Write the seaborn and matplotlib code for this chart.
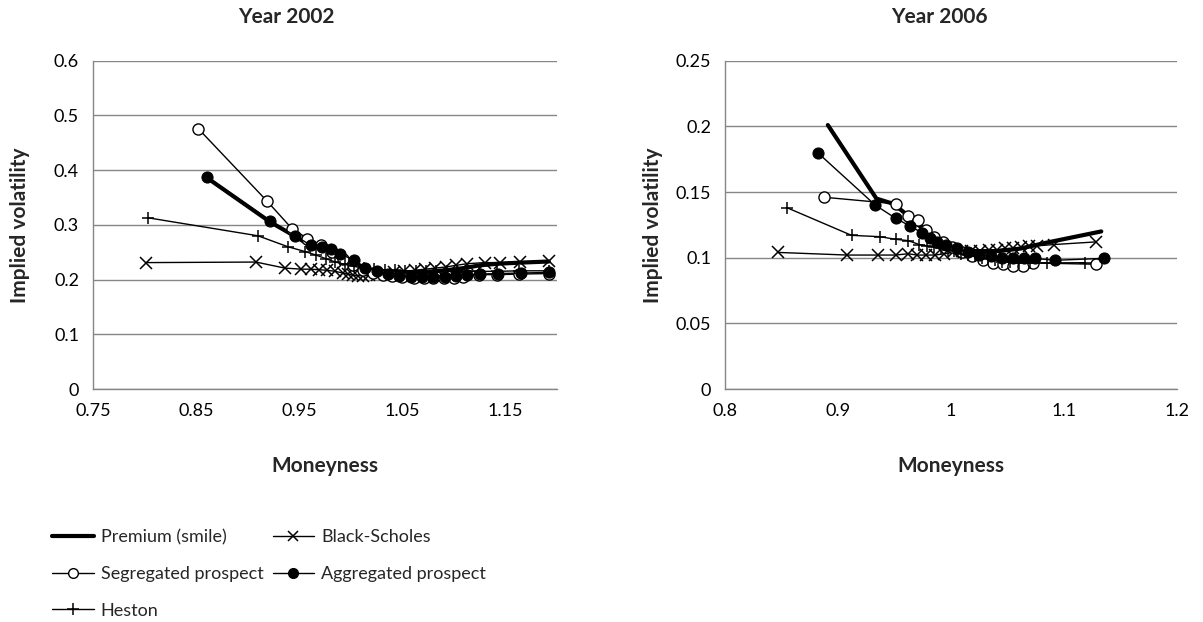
import numpy as np
import pandas as pd
import seaborn as sns
import matplotlib.pyplot as plt
from matplotlib.lines import Line2D

sns.set_style("white")
plt.rcParams['font.family'] = ['Lato', 'DejaVu Sans']

# ---- Year 2002 ----
prem02_x = [0.859, 0.922, 0.946, 0.961, 0.972, 0.981, 0.990, 1.003, 1.014, 1.025, 1.036, 1.047,
            1.058, 1.069, 1.080, 1.091, 1.102, 1.113, 1.125, 1.143, 1.165, 1.192]
prem02_y = [0.388, 0.305, 0.279, 0.262, 0.258, 0.252, 0.245, 0.232, 0.220, 0.214, 0.212, 0.212,
            0.213, 0.214, 0.215, 0.217, 0.219, 0.222, 0.226, 0.229, 0.231, 0.233]

bs02_x = [0.801, 0.908, 0.936, 0.952, 0.961, 0.969, 0.977, 0.985, 0.992, 0.997, 1.002, 1.007,
          1.012, 1.018, 1.025, 1.033, 1.042, 1.052, 1.062, 1.072, 1.082, 1.092, 1.102, 1.113,
          1.130, 1.145, 1.164, 1.192]
bs02_y = [0.231, 0.232, 0.221, 0.219, 0.219, 0.218, 0.217, 0.215, 0.212, 0.210, 0.208, 0.207,
          0.207, 0.208, 0.209, 0.211, 0.213, 0.215, 0.217, 0.219, 0.221, 0.223, 0.226, 0.229,
          0.231, 0.231, 0.232, 0.234]

seg02_x = [0.852, 0.919, 0.943, 0.958, 0.971, 0.982, 0.992, 1.002, 1.012, 1.022, 1.031, 1.040,
           1.050, 1.061, 1.071, 1.080, 1.090, 1.100, 1.109, 1.124, 1.142, 1.163, 1.192]
seg02_y = [0.476, 0.343, 0.293, 0.275, 0.263, 0.250, 0.237, 0.226, 0.218, 0.212, 0.208, 0.206,
           0.204, 0.202, 0.202, 0.202, 0.202, 0.203, 0.204, 0.209, 0.209, 0.210, 0.211]

agg02_x = [0.861, 0.922, 0.946, 0.961, 0.972, 0.981, 0.990, 1.003, 1.014, 1.025, 1.036, 1.047,
           1.058, 1.069, 1.080, 1.091, 1.102, 1.113, 1.125, 1.143, 1.165, 1.192]
agg02_y = [0.387, 0.307, 0.280, 0.263, 0.260, 0.255, 0.247, 0.235, 0.222, 0.215, 0.210, 0.207,
           0.205, 0.204, 0.204, 0.205, 0.206, 0.208, 0.210, 0.211, 0.212, 0.213]

hes02_x = [0.803, 0.910, 0.939, 0.956, 0.966, 0.976, 0.985, 0.994, 1.003, 1.013, 1.023, 1.033,
           1.043, 1.053, 1.063, 1.073, 1.083, 1.093, 1.103, 1.113, 1.124, 1.142, 1.163, 1.192]
hes02_y = [0.313, 0.280, 0.260, 0.251, 0.245, 0.238, 0.232, 0.228, 0.224, 0.221, 0.219, 0.218,
           0.217, 0.216, 0.216, 0.215, 0.215, 0.215, 0.215, 0.215, 0.215, 0.215, 0.216, 0.216]

# ---- Year 2006 ----
prem06_x = [0.891, 0.934, 0.949, 0.962, 0.971, 0.979, 0.986, 0.994, 1.002, 1.012, 1.022, 1.032,
            1.042, 1.052, 1.062, 1.072, 1.082, 1.133]
prem06_y = [0.201, 0.145, 0.141, 0.132, 0.125, 0.119, 0.115, 0.112, 0.108, 0.106, 0.105, 0.105,
            0.105, 0.106, 0.107, 0.109, 0.111, 0.120]

bs06_x = [0.847, 0.908, 0.935, 0.951, 0.962, 0.970, 0.978, 0.986, 0.994, 1.002, 1.010, 1.018,
          1.026, 1.034, 1.041, 1.048, 1.055, 1.062, 1.069, 1.076, 1.091, 1.128]
bs06_y = [0.104, 0.102, 0.102, 0.102, 0.103, 0.102, 0.102, 0.102, 0.103, 0.104, 0.105, 0.105,
          0.105, 0.106, 0.106, 0.107, 0.107, 0.108, 0.109, 0.109, 0.110, 0.112]

seg06_x = [0.888, 0.951, 0.962, 0.971, 0.978, 0.985, 0.993, 1.001, 1.010, 1.019, 1.028, 1.037,
           1.046, 1.055, 1.064, 1.073, 1.128]
seg06_y = [0.146, 0.141, 0.132, 0.129, 0.121, 0.116, 0.112, 0.108, 0.104, 0.101, 0.098, 0.096,
           0.095, 0.094, 0.094, 0.096, 0.095]

agg06_x = [0.882, 0.933, 0.951, 0.964, 0.974, 0.981, 0.988, 0.996, 1.005, 1.015, 1.025, 1.035,
           1.045, 1.055, 1.065, 1.074, 1.092, 1.135]
agg06_y = [0.180, 0.140, 0.130, 0.124, 0.119, 0.115, 0.112, 0.110, 0.107, 0.104, 0.102, 0.101,
           0.100, 0.100, 0.100, 0.0995, 0.098, 0.0995]

hes06_x = [0.855, 0.912, 0.937, 0.951, 0.962, 0.972, 0.979, 0.985, 0.991, 0.997, 1.003, 1.009,
           1.015, 1.021, 1.027, 1.033, 1.039, 1.045, 1.052, 1.060, 1.070, 1.085, 1.119]
hes06_y = [0.138, 0.117, 0.116, 0.114, 0.113, 0.110, 0.109, 0.108, 0.107, 0.106, 0.105, 0.103,
           0.102, 0.101, 0.100, 0.099, 0.098, 0.097, 0.097, 0.096, 0.096, 0.096, 0.0962]

labels = ["Premium (smile)", "Black-Scholes", "Segregated prospect", "Aggregated prospect", "Heston"]

styles = {
    "Premium (smile)": dict(linewidth=3.0, marker=None),
    "Black-Scholes": dict(linewidth=1.0, marker='x', markersize=8, markeredgewidth=1.1,
                          markeredgecolor='black'),
    "Segregated prospect": dict(linewidth=1.0, marker='o', markersize=8, markerfacecolor='white',
                                markeredgecolor='black', markeredgewidth=1.0),
    "Aggregated prospect": dict(linewidth=1.0, marker='o', markersize=8, markerfacecolor='black',
                                markeredgecolor='black'),
    "Heston": dict(linewidth=1.0, marker='+', markersize=9, markeredgewidth=1.1,
                   markeredgecolor='black'),
}

data02 = [(prem02_x, prem02_y), (bs02_x, bs02_y), (seg02_x, seg02_y), (agg02_x, agg02_y), (hes02_x, hes02_y)]
data06 = [(prem06_x, prem06_y), (bs06_x, bs06_y), (seg06_x, seg06_y), (agg06_x, agg06_y), (hes06_x, hes06_y)]

W, H = 1203, 622
fig = plt.figure(figsize=(W / 100, H / 100), dpi=100)
ax1 = fig.add_axes([93 / W, 1 - 389 / H, 464 / W, 328.3 / H])
ax2 = fig.add_axes([725 / W, 1 - 389 / H, 452 / W, 328.3 / H])

grey = '#868686'


def draw(ax, data, xlim, xticks, xtl, ylim, yticks, ytl):
    for lab, (xs, ys) in zip(labels, data):
        sns.lineplot(x=xs, y=ys, ax=ax, color='black', sort=False, estimator=None,
                     **styles[lab])
    ax.set_xlim(*xlim)
    ax.set_ylim(*ylim)
    ax.set_xticks(xticks)
    ax.set_xticklabels(xtl)
    ax.set_yticks(yticks)
    ax.set_yticklabels(ytl)
    ax.grid(axis='y', color=grey, linewidth=1.0)
    ax.grid(axis='x', visible=False)
    ax.set_axisbelow(True)
    for s in ['top', 'right']:
        ax.spines[s].set_visible(False)
    for s in ['left', 'bottom']:
        ax.spines[s].set_color(grey)
        ax.spines[s].set_linewidth(1.0)
    ax.tick_params(axis='both', direction='out', length=4, width=1, color=grey,
                   labelsize=13, labelcolor='black')
    ax.tick_params(axis='x', pad=6)
    ax.tick_params(axis='y', pad=6)
    ax.set_xlabel("Moneyness", fontsize=15, fontweight='bold')
    ax.set_ylabel("Implied volatility", fontsize=15, fontweight='bold')
    ax.xaxis.set_label_coords(0.5, -67 / 328.3)


draw(ax1, data02, (0.75, 1.2), [0.75, 0.85, 0.95, 1.05, 1.15],
     ["0.75", "0.85", "0.95", "1.05", "1.15"],
     (0, 0.6), [0, 0.1, 0.2, 0.3, 0.4, 0.5, 0.6], ["0", "0.1", "0.2", "0.3", "0.4", "0.5", "0.6"])
draw(ax2, data06, (0.8, 1.2), [0.8, 0.9, 1.0, 1.1, 1.2], ["0.8", "0.9", "1", "1.1", "1.2"],
     (0, 0.25), [0, 0.05, 0.1, 0.15, 0.2, 0.25], ["0", "0.05", "0.1", "0.15", "0.2", "0.25"])
ax1.yaxis.set_label_coords(-63 / 464, 0.5)
ax2.yaxis.set_label_coords(-62 / 452, 0.5)

fig.text(286 / W, 1 - 17 / H, "Year 2002", ha='center', va='center', fontsize=15, fontweight='bold')
fig.text(939 / W, 1 - 17 / H, "Year 2006", ha='center', va='center', fontsize=15, fontweight='bold')

handles = {}
for lab in labels:
    st = dict(styles[lab])
    if st.get('markersize'):
        st['markersize'] = st['markersize'] - 1
    handles[lab] = Line2D([], [], color='black', **st)

order = ["Premium (smile)", "Segregated prospect", "Heston", "Black-Scholes", "Aggregated prospect"]
fig.legend([handles[k] for k in order], order, loc='upper left',
           bbox_to_anchor=(52 / W, 1 - 529 / H), ncol=2, frameon=False, fontsize=13,
           handlelength=2.3, handletextpad=0.4, columnspacing=0.5, labelspacing=1.15,
           borderpad=0, borderaxespad=0)

fig.savefig("out.png", dpi=100)
